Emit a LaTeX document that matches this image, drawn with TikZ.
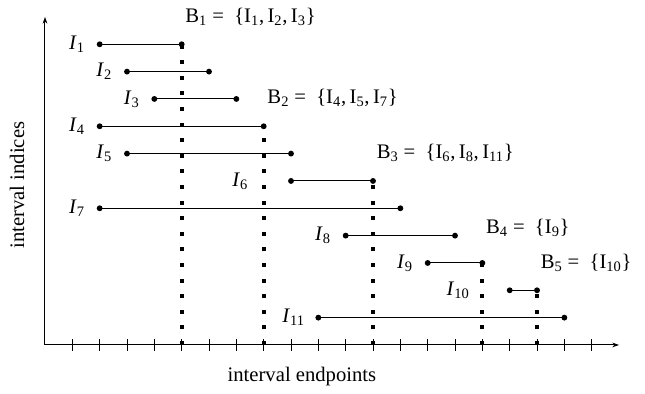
\documentclass[tikz,border=0pt]{standalone}
\usepackage{fontspec}
\setmainfont{Liberation Serif}
\usetikzlibrary{positioning,arrows.meta}

\tikzset{
    txt/.style={font=\fontsize{15.5}{18}\selectfont, inner sep=1pt},
    seg/.style={line width=0.75pt},
    split/.style={line width=3pt, dash pattern=on 3pt off 8.7pt},
}

\begin{document}
\begin{tikzpicture}[x=20.5pt, y=20.5pt, >={Stealth[length=5pt, width=3.5pt, inset=1.5pt]}]
    \useasboundingbox (-1.646,-1.793) rectangle (21.95,12.62);

    % Axes
    \coordinate (O) at (0,0);
    \coordinate (xend) at (21,0);
    \coordinate (yend) at (0,12);
    \draw[line width=0.75pt, ->] (O) -- (xend);
    \draw[line width=0.75pt, ->] (O) -- (yend);
    \foreach \k in {1,...,20}
        \draw[line width=0.75pt] (\k,-0.22) -- (\k,0.22);

    % Axis labels
    \node[txt] (xlab) at (9.4,-1.17) {interval endpoints};
    \node[txt, rotate=90] (ylab) at (-1.02,5.85) {interval indices};

    % Intervals: start/end/row/index/label gap
    \foreach \a/\b/\r/\n/\g in {2/5/11/1/10pt, 3/6/10/2/10pt, 4/7/9/3/10pt,
                                2/8/8/4/10pt, 3/9/7/5/10pt, 9/12/6/6/31pt,
                                2/13/5/7/10pt, 11/15/4/8/10pt, 14/16/3/9/10pt,
                                17/18/2/10/29pt, 10/19/1/11/9pt}{
        \coordinate (s\n) at (\a,\r);
        \coordinate (e\n) at (\b,\r);
        \draw[seg] (s\n) -- (e\n);
        \fill (s\n) circle (2.2pt) (e\n) circle (2.2pt);
        \node[txt, left=\g of s\n] (I\n) {\textit{I}\textsubscript{\n}};
    }

    % Dotted separators and the groups
    \foreach \x/\t/\h/\m/\s in {5/11/12/1/{I\textsubscript{1},\,I\textsubscript{2},\,I\textsubscript{3}},
                                8/8/9.04/2/{I\textsubscript{4},\,I\textsubscript{5},\,I\textsubscript{7}},
                                12/6/7.02/3/{I\textsubscript{6},\,I\textsubscript{8},\,I\textsubscript{11}},
                                16/3/4.28/4/{I\textsubscript{9}},
                                18/2/3/5/{I\textsubscript{10}}}{
        \coordinate (b\m) at (\x,0);
        \coordinate (t\m) at (\x,\t);
        \draw[split] (b\m) -- (t\m);
        \node[txt, anchor=west] (B\m) at (\x+0.08,\h) {B\textsubscript{\m} = \ \{\s\}};
    }
\end{tikzpicture}
\end{document}
